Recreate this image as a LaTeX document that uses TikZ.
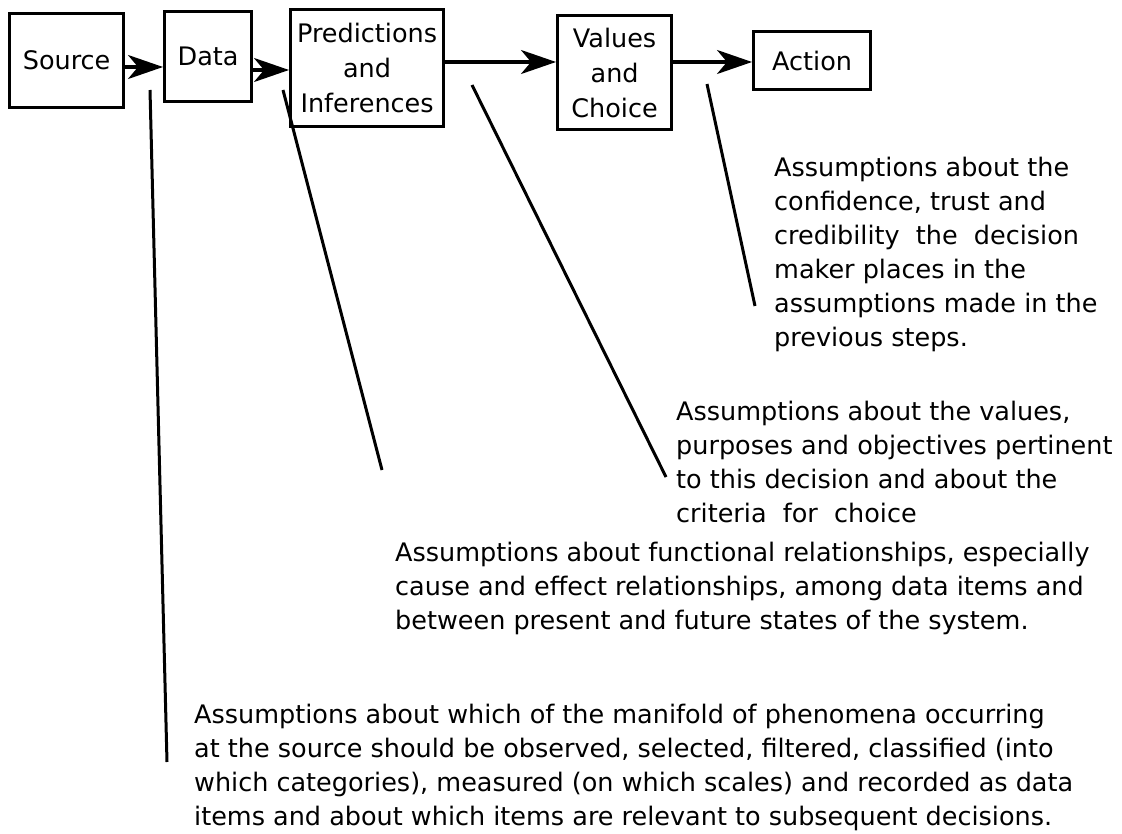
\documentclass[tikz,border=0pt]{standalone}
\usepackage{fontspec}
\setmainfont{DejaVu Sans}
\usetikzlibrary{arrows.meta}
\begin{document}
\begin{tikzpicture}[x=1pt,y=-1pt,
  stage/.style={draw, line width=3.2pt, inner sep=0pt, align=center, anchor=north west,
    font=\fontsize{25.5}{35}\selectfont},
  flow/.style={line width=3.2pt, arrows={-Stealth[length=35pt,width=24pt,inset=10pt]}},
  pointer/.style={line width=3pt},
  note/.style={inner sep=0pt, align=left, anchor=north west,
    font=\fontsize{25.5}{34}\selectfont}]
\useasboundingbox (0,0) rectangle (1122,834);

% the five stages of the decision process
\node[stage, minimum width=114pt, minimum height=94pt]  (source) at (8,12)   {Source};
\node[stage, minimum width=87pt,  minimum height=90pt]  (data)   at (163,10) {Data};
\node[stage, minimum width=153pt, minimum height=117pt] (pred)   at (289,8)  {Predictions\\and\\Inferences};
\node[stage, minimum width=114pt, minimum height=114pt] (values) at (556,14) {Values\\and\\Choice};
\node[stage, minimum width=117pt, minimum height=58pt]  (action) at (752,30) {Action};

% flow between stages
\draw[flow] (source.east |- 0,67) -- (data.west |- 0,67);
\draw[flow] (data.east |- 0,70) -- (pred.west |- 0,70);
\draw[flow] (pred.east |- 0,62) -- (values.west |- 0,62);
\draw[flow] (values.east |- 0,62) -- (action.west |- 0,62);

% assumptions behind each step
\node[note] (n4) at (774,157) {Assumptions about the\\confidence, trust and\\credibility\ \ the\ \ decision\\maker places in the\\assumptions made in the\\previous steps.};
\node[note] (n3) at (676,401) {Assumptions about the values,\\purposes and objectives pertinent\\to this decision and about the\\criteria\ \ for\ \ choice};
\node[note] (n2) at (395,542) {Assumptions about functional relationships, especially\\cause and effect relationships, among data items and\\between present and future states of the system.};
\node[note] (n1) at (194,704) {Assumptions about which of the manifold of phenomena occurring\\at the source should be observed, selected, filtered, classified (into\\which categories), measured (on which scales) and recorded as data\\items and about which items are relevant to subsequent decisions.};

% leader lines from each step to its assumptions
\coordinate (a1) at (150,90);  \coordinate (b1) at (167,762);
\coordinate (a2) at (283,90);  \coordinate (b2) at (382,470);
\coordinate (a3) at (472,85);  \coordinate (b3) at (666,477);
\coordinate (a4) at (707,84);  \coordinate (b4) at (755,306);
\draw[pointer] (a1) -- (b1);
\draw[pointer] (a2) -- (b2);
\draw[pointer] (a3) -- (b3);
\draw[pointer] (a4) -- (b4);
\end{tikzpicture}
\end{document}
